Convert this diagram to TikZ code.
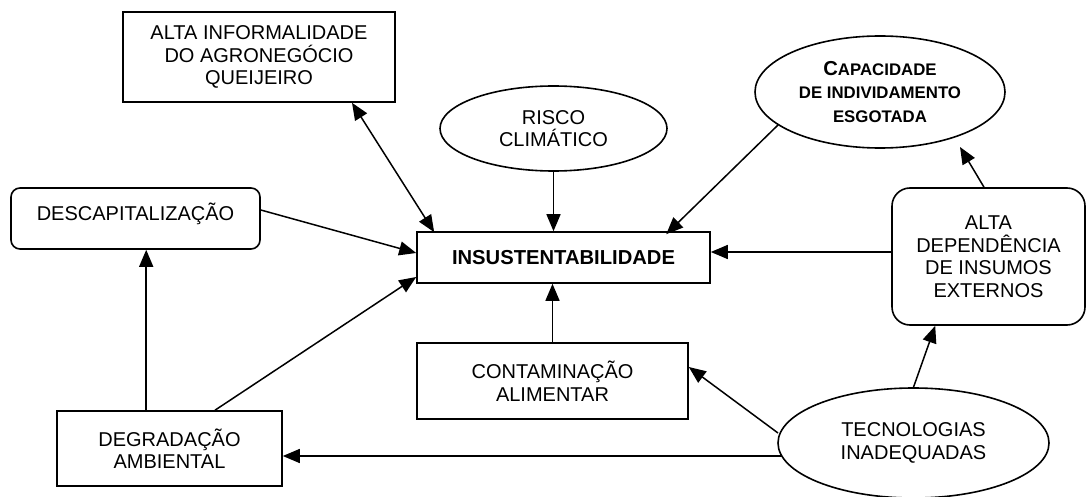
\documentclass[tikz,border=0pt]{standalone}
\usepackage{fontspec}
\setmainfont{Liberation Sans}
\usetikzlibrary{arrows.meta,shapes.geometric,calc}

\begin{document}
\begin{tikzpicture}[x=1pt,y=-1pt,
  box/.style={draw,line width=1.6pt,inner sep=0pt,align=center,
    font=\fontsize{20}{22.5}\selectfont},
  rbox/.style={box,rounded corners=9pt},
  oval/.style={box,ellipse},
  conn/.style={line width=1.5pt,-{Triangle[length=17pt,width=14pt]}},
  dconn/.style={line width=1.5pt,{Triangle[length=17pt,width=14pt]}-{Triangle[length=17pt,width=14pt]}},
]
\useasboundingbox (0,0) rectangle (1086,497);

\node[box,minimum width=272pt,minimum height=90pt] (inf) at (259,57)
  {ALTA INFORMALIDADE\\DO AGRONEGÓCIO\\QUEIJEIRO};
\node[oval,minimum width=227pt,minimum height=85pt] (risco) at (553.5,128.5)
  {RISCO\\CLIMÁTICO};
\node[box,minimum width=293pt,minimum height=51pt,
  font=\fontsize{20.2}{22}\bfseries] (ins) at (563.5,257.5) {INSUSTENTABILIDADE};
\node[rbox,minimum width=249pt,minimum height=61pt,text height=14pt,text depth=11pt]
  (desc) at (135.5,218.5) {DESCAPITALIZAÇÃO};
\node[oval,minimum width=250pt,minimum height=112pt,
  font=\fontsize{16.8}{23.5}\bfseries] (cap) at (880,92)
  {{\fontsize{20.2}{23.5}\selectfont C}APACIDADE\\DE INDIVIDAMENTO\\ESGOTADA};
\node[rbox,rounded corners=18pt,minimum width=193pt,minimum height=137pt] (dep)
  at (988.5,256.5) {ALTA\\DEPENDÊNCIA\\DE INSUMOS\\EXTERNOS};
\node[oval,minimum width=271pt,minimum height=110pt] (tec) at (913.5,443)
  {TECNOLOGIAS\\INADEQUADAS};
\node[box,minimum width=271pt,minimum height=76pt] (cont) at (552.5,381)
  {CONTAMINAÇÃO\\ALIMENTAR};
\node[box,minimum width=225pt,minimum height=75pt] (deg) at (169.5,448.5)
  {DEGRADAÇÃO\\AMBIENTAL};

\draw[dconn] ($(inf.south)+(93,0)$) -- ($(ins.north west)+(18,1)$);
\draw[conn] (risco.south) -- (risco.south |- ins.north);
\draw[conn] ($(cap.center)+(-102,33)$) -- ($(ins.north west)+(250,3)$);
\draw[conn] ($(desc.east)+(0,-8.5)$) -- ($(ins.west)+(0,-4.5)$);
\draw[conn] ($(deg.north)+(45.5,0)$) -- ($(ins.west)+(0,19.5)$);
\draw[conn] ($(deg.north west)+(90,0)$) coordinate (p) -- (p |- desc.south);
\draw[conn] (cont.north) -- (cont.north |- ins.south);
\draw[conn] ($(dep.west)+(0,-4.5)$) coordinate (q) -- (q -| ins.east);
\draw[conn] ($(dep.north)+(-4.5,0)$) -- ($(cap.center)+(80,55)$);
\draw[conn] (tec.north) -- ($(dep.south west)+(44,0)$);
\draw[conn] ($(tec.center)+(-135.5,-10)$) -- ($(cont.east)+(0,-14)$);
\draw[conn] ($(tec.center)+(-132,13)$) coordinate (r) -- (r -| deg.east);
\end{tikzpicture}
\end{document}
